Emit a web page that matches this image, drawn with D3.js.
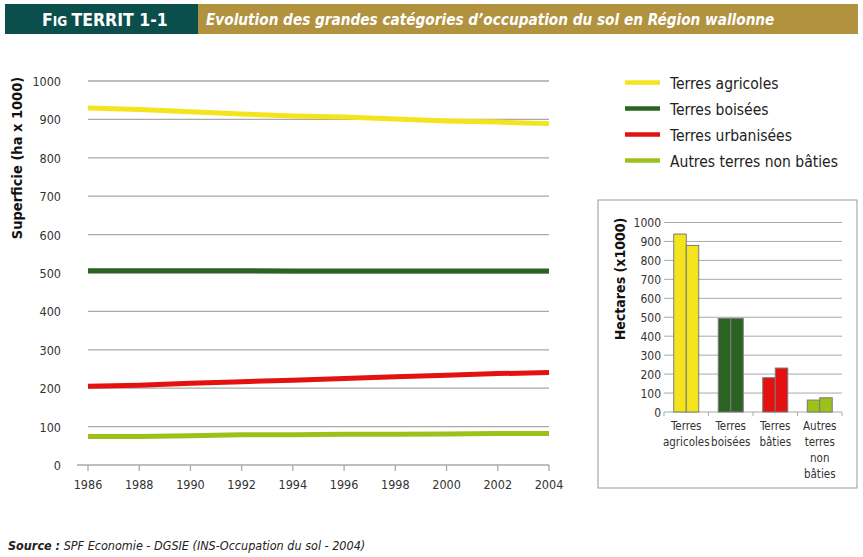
<!DOCTYPE html>
<html><head><meta charset="utf-8">
<script src="https://cdn.jsdelivr.net/npm/d3@7"></script>
<style>
body{margin:0;background:#fff;}
svg{display:block;}
text{font-family:"DejaVu Sans Condensed","DejaVu Sans",sans-serif;font-stretch:condensed;}
</style></head><body>
<svg id="c" width="863" height="557"></svg>
<script>
// ---- data ----
const years = [1986,1988,1990,1992,1994,1996,1998,2000,2002,2004];
const seriesNames = ["Terres agricoles","Terres boisées","Terres urbanisées","Autres terres non bâties"];
const agricoles = [930,926,920,914,909,906,901,896,893,889];
const boisees   = [506,506,506,506,505,505,505,505,505,505];
const urbanisees= [205,208,213,217,221,225,230,234,238,241];
const autres    = [74,74,76,79,79,80,80,81,82,82];
const seriesColors = ["#f4e41e","#2a6322","#e3110f","#9dc11b"];
const yTicks = [0,100,200,300,400,500,600,700,800,900,1000];

const barCategories = [["Terres","agricoles"],["Terres","boisées"],["Terres","bâties"],["Autres","terres","non","bâties"]];
const barFirst  = [939,494,181,63];
const barLast   = [879,494,232,75];

const titleLeft = "TERRIT 1-1";
const titleRight = "Evolution des grandes catégories d’occupation du sol en Région wallonne";

const svg = d3.select("#c");

// ---- header ----
svg.append("rect").attr("x",5).attr("y",4).attr("width",193).attr("height",30).attr("fill","#0b4f4c");
svg.append("rect").attr("x",198).attr("y",4).attr("width",660).attr("height",30).attr("fill","#b0923f");
const ht = svg.append("text").attr("x",42).attr("y",26).attr("fill","#fff").attr("font-weight","bold").attr("font-size",17.5);
ht.append("tspan").text("F");
ht.append("tspan").attr("font-size",13.5).text("IG ");
ht.append("tspan").text(titleLeft);
svg.append("text").attr("x",206).attr("y",25).attr("fill","#fff").attr("font-weight","bold")
  .attr("font-style","italic").attr("font-size",15.2).text(titleRight);

// ---- line chart ----
const x = d3.scaleLinear().domain([1986,2004]).range([88,549]);
const y = d3.scaleLinear().domain([0,1000]).range([465,81]);
const gLine = svg.append("g");
gLine.selectAll("line.grid").data(yTicks.filter(d=>d>0)).join("line")
  .attr("x1",88).attr("x2",549).attr("y1",d=>y(d)).attr("y2",d=>y(d))
  .attr("stroke","#a9a9a9").attr("stroke-width",1.3);
gLine.append("line").attr("x1",77).attr("x2",549).attr("y1",y(0)).attr("y2",y(0))
  .attr("stroke","#a9a9a9").attr("stroke-width",1.3);
gLine.selectAll("line.tick").data(years).join("line")
  .attr("x1",d=>x(d)).attr("x2",d=>x(d)).attr("y1",y(0)).attr("y2",y(0)+6)
  .attr("stroke","#a9a9a9").attr("stroke-width",1.3);
gLine.selectAll("text.yl").data(yTicks).join("text")
  .attr("x",61).attr("y",d=>y(d)+5).attr("text-anchor","end").attr("font-size",12.5).attr("fill","#333").text(d=>d);
gLine.selectAll("text.xl").data(years).join("text")
  .attr("x",d=>x(d)).attr("y",489).attr("text-anchor","middle").attr("font-size",12.5).attr("fill","#333").text(d=>d);
svg.append("text").attr("transform","translate(22,158) rotate(-90)").attr("text-anchor","middle")
  .attr("font-weight","bold").attr("font-size",14.5).attr("fill","#111").text("Superficie (ha x 1000)");

const allSeries = [agricoles,boisees,urbanisees,autres];
const line = d3.line().x((d,i)=>x(years[i])).y(d=>y(d));
allSeries.forEach((s,i)=>{
  gLine.append("path").attr("d",line(s)).attr("fill","none").attr("stroke",seriesColors[i]).attr("stroke-width",5);
});

// ---- legend ----
const lg = svg.append("g");
seriesNames.forEach((n,i)=>{
  const yy = 82.5 + i*26;
  lg.append("line").attr("x1",625).attr("x2",660).attr("y1",yy).attr("y2",yy).attr("stroke",seriesColors[i]).attr("stroke-width",4.5);
  lg.append("text").attr("x",670).attr("y",yy+6).attr("font-size",15.5).attr("fill","#222").text(n);
});

// ---- inset bar chart ----
svg.append("rect").attr("x",598).attr("y",200).attr("width",259).attr("height",288).attr("fill","#fff").attr("stroke","#999").attr("stroke-width",1);
const bx = d3.scaleBand().domain(d3.range(barCategories.length)).range([664,842]);
const by = d3.scaleLinear().domain([0,1000]).range([412,222.5]);
const gb = svg.append("g");
gb.selectAll("line.g").data(yTicks).join("line")
  .attr("x1",664).attr("x2",842).attr("y1",d=>by(d)).attr("y2",d=>by(d))
  .attr("stroke","#a9a9a9").attr("stroke-width",1);
gb.selectAll("text.yl").data(yTicks).join("text")
  .attr("x",661).attr("y",d=>by(d)+4.5).attr("text-anchor","end").attr("font-size",12).attr("fill","#333").text(d=>d);
gb.selectAll("line.t").data(d3.range(barCategories.length+1)).join("line")
  .attr("x1",d=>664+d*bx.bandwidth()).attr("x2",d=>664+d*bx.bandwidth()).attr("y1",by(0)).attr("y2",by(0)+4)
  .attr("stroke","#a9a9a9");
const bw = 12.5;
barCategories.forEach((c,i)=>{
  const cx = bx(i)+bx.bandwidth()/2;
  [barFirst[i],barLast[i]].forEach((v,j)=>{
    gb.append("rect").attr("x",cx-bw+j*bw).attr("y",by(v)).attr("width",bw).attr("height",by(0)-by(v))
      .attr("fill",seriesColors[i]).attr("stroke","#7a7a7a").attr("stroke-width",1);
  });
  c.forEach((w,k)=>{
    gb.append("text").attr("x",cx).attr("y",430+k*16).attr("text-anchor","middle").attr("font-size",11.5).attr("fill","#333").text(w);
  });
});
svg.append("text").attr("transform","translate(625,279) rotate(-90)").attr("text-anchor","middle")
  .attr("font-weight","bold").attr("font-size",14).attr("fill","#111").text("Hectares (x1000)");

// ---- source ----
const src = svg.append("text").attr("x",8).attr("y",550).attr("font-size",12.5).attr("font-style","italic").attr("fill","#222");
src.append("tspan").attr("font-weight","bold").text("Source :");
src.append("tspan").text(" SPF Economie - DGSIE (INS-Occupation du sol - 2004)");
</script>
</body></html>
